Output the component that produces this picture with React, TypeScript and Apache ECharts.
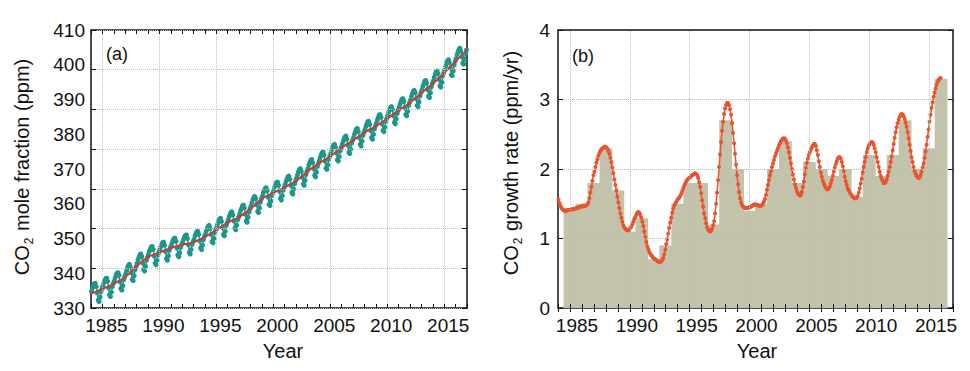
import React, { useEffect, useRef } from 'react';
import * as echarts from 'echarts';

// ---------- Panel (a): globally averaged CO2 mole fraction ----------
const MONTHLY_START_YEAR = 1984;
// monthly means (ppm), one row per year 1984..2016, Jan..Dec
const MONTHLY_CO2: number[][] = [
  [344.2, 345.0, 345.6, 346.1, 346.2, 345.4, 343.8, 342.0, 341.6, 342.7, 344.1, 344.8],
  [345.5, 346.3, 346.9, 347.4, 347.5, 346.7, 345.1, 343.3, 342.9, 344.0, 345.4, 346.2],
  [346.8, 347.6, 348.3, 348.8, 348.9, 348.2, 346.6, 344.9, 344.5, 345.6, 347.1, 347.8],
  [348.5, 349.4, 350.2, 350.8, 351.0, 350.3, 348.9, 347.2, 346.9, 348.1, 349.7, 350.5],
  [351.2, 352.1, 352.8, 353.4, 353.6, 352.9, 351.3, 349.6, 349.3, 350.5, 352.0, 352.8],
  [353.5, 354.3, 354.9, 355.4, 355.5, 354.7, 353.1, 351.3, 350.9, 352.0, 353.4, 354.1],
  [354.6, 355.4, 356.0, 356.5, 356.6, 355.8, 354.2, 352.4, 352.0, 353.1, 354.5, 355.2],
  [355.7, 356.5, 357.1, 357.5, 357.6, 356.8, 355.1, 353.3, 352.9, 353.9, 355.3, 356.0],
  [356.5, 357.3, 357.9, 358.3, 358.4, 357.5, 355.9, 354.0, 353.6, 354.7, 356.0, 356.7],
  [357.3, 358.1, 358.7, 359.2, 359.3, 358.5, 356.9, 355.1, 354.7, 355.8, 357.2, 358.0],
  [358.6, 359.4, 360.1, 360.6, 360.8, 360.0, 358.5, 356.7, 356.4, 357.5, 359.0, 359.7],
  [360.4, 361.2, 361.9, 362.4, 362.6, 361.8, 360.3, 358.5, 358.2, 359.3, 360.8, 361.5],
  [362.2, 363.0, 363.6, 364.1, 364.2, 363.4, 361.9, 360.1, 359.7, 360.8, 362.2, 362.9],
  [363.6, 364.5, 365.1, 365.7, 365.9, 365.2, 363.6, 361.9, 361.6, 362.8, 364.2, 365.0],
  [365.7, 366.6, 367.3, 367.9, 368.1, 367.5, 366.0, 364.3, 364.0, 365.2, 366.7, 367.5],
  [368.2, 369.0, 369.6, 370.1, 370.3, 369.5, 367.9, 366.1, 365.8, 366.9, 368.3, 369.0],
  [369.7, 370.5, 371.1, 371.6, 371.7, 370.9, 369.4, 367.6, 367.2, 368.3, 369.7, 370.4],
  [371.1, 371.9, 372.5, 373.1, 373.2, 372.4, 370.9, 369.1, 368.7, 369.9, 371.3, 372.0],
  [372.7, 373.6, 374.3, 374.9, 375.1, 374.4, 372.9, 371.2, 370.9, 372.1, 373.6, 374.4],
  [375.1, 376.0, 376.6, 377.2, 377.4, 376.6, 375.1, 373.4, 373.0, 374.2, 375.7, 376.4],
  [377.1, 377.9, 378.6, 379.1, 379.3, 378.5, 377.0, 375.2, 374.9, 376.0, 377.5, 378.2],
  [378.9, 379.8, 380.5, 381.0, 381.2, 380.5, 379.0, 377.3, 377.0, 378.1, 379.6, 380.4],
  [381.1, 381.9, 382.6, 383.1, 383.3, 382.5, 381.0, 379.2, 378.9, 380.0, 381.5, 382.2],
  [382.9, 383.8, 384.4, 385.0, 385.2, 384.4, 382.9, 381.2, 380.8, 382.0, 383.5, 384.2],
  [384.9, 385.7, 386.3, 386.9, 387.0, 386.2, 384.7, 382.9, 382.5, 383.7, 385.1, 385.8],
  [386.5, 387.3, 388.0, 388.6, 388.7, 388.0, 386.4, 384.7, 384.4, 385.5, 387.0, 387.7],
  [388.4, 389.3, 389.9, 390.5, 390.7, 390.0, 388.4, 386.7, 386.4, 387.6, 389.0, 389.8],
  [390.5, 391.3, 392.0, 392.6, 392.7, 392.0, 390.4, 388.7, 388.4, 389.5, 391.0, 391.7],
  [392.4, 393.3, 394.0, 394.6, 394.8, 394.2, 392.7, 391.0, 390.7, 391.9, 393.4, 394.2],
  [394.9, 395.8, 396.5, 397.1, 397.3, 396.6, 395.0, 393.3, 393.0, 394.2, 395.7, 396.5],
  [397.2, 398.1, 398.9, 399.5, 399.7, 399.0, 397.6, 395.9, 395.6, 396.8, 398.4, 399.2],
  [399.9, 400.9, 401.6, 402.2, 402.5, 401.8, 400.4, 398.7, 398.5, 399.7, 401.2, 402.1],
  [402.8, 403.8, 404.5, 405.1, 405.4, 404.7, 403.3, 401.6, 401.4, 402.6, 404.1, 405.0],
];
// deseasonalised trend (ppm) at the start of each year
const TREND_YEARS = [1984, 1985, 1986, 1987, 1988, 1989, 1990, 1991, 1992, 1993, 1994, 1995, 1996, 1997, 1998, 1999, 2000, 2001, 2002, 2003, 2004, 2005, 2006, 2007, 2008, 2009, 2010, 2011, 2012, 2013, 2014, 2015, 2016, 2017];
const TREND_CO2 = [343.6, 344.8, 346.1, 347.8, 350.5, 352.8, 354.0, 355.1, 355.9, 356.6, 357.9, 359.7, 361.5, 362.9, 365.0, 367.5, 369.0, 370.4, 372.0, 374.4, 376.4, 378.2, 380.4, 382.2, 384.2, 385.8, 387.7, 389.8, 391.7, 394.2, 396.5, 399.2, 402.1, 405.0];

// ---------- Panel (b): growth rate ----------
const GROWTH_START_YEAR = 1984;
// smoothed monthly growth rate (ppm/yr), one row per year 1984..2015
const GROWTH_MONTHLY: number[][] = [
  [1.56, 1.51, 1.47, 1.44, 1.42, 1.41, 1.40, 1.40, 1.40, 1.41, 1.41, 1.41],
  [1.41, 1.42, 1.42, 1.42, 1.43, 1.43, 1.44, 1.44, 1.45, 1.45, 1.46, 1.46],
  [1.46, 1.47, 1.47, 1.47, 1.48, 1.49, 1.52, 1.58, 1.66, 1.74, 1.83, 1.91],
  [1.96, 2.03, 2.09, 2.14, 2.19, 2.23, 2.26, 2.28, 2.30, 2.31, 2.32, 2.32],
  [2.31, 2.29, 2.26, 2.22, 2.16, 2.10, 2.02, 1.94, 1.85, 1.77, 1.69, 1.60],
  [1.52, 1.44, 1.36, 1.30, 1.24, 1.19, 1.16, 1.14, 1.12, 1.12, 1.12, 1.13],
  [1.15, 1.17, 1.20, 1.24, 1.28, 1.31, 1.34, 1.37, 1.38, 1.37, 1.34, 1.30],
  [1.24, 1.18, 1.10, 1.02, 0.95, 0.89, 0.85, 0.81, 0.78, 0.76, 0.74, 0.72],
  [0.71, 0.70, 0.69, 0.68, 0.67, 0.66, 0.66, 0.67, 0.69, 0.72, 0.77, 0.84],
  [0.92, 0.99, 1.07, 1.15, 1.23, 1.30, 1.37, 1.43, 1.47, 1.50, 1.53, 1.55],
  [1.57, 1.59, 1.61, 1.64, 1.68, 1.72, 1.76, 1.79, 1.82, 1.84, 1.86, 1.87],
  [1.88, 1.90, 1.91, 1.92, 1.93, 1.94, 1.93, 1.91, 1.87, 1.81, 1.74, 1.65],
  [1.55, 1.46, 1.36, 1.29, 1.22, 1.16, 1.13, 1.11, 1.10, 1.11, 1.14, 1.19],
  [1.25, 1.36, 1.50, 1.66, 1.84, 2.03, 2.21, 2.39, 2.55, 2.68, 2.79, 2.87],
  [2.92, 2.95, 2.95, 2.92, 2.86, 2.78, 2.66, 2.52, 2.37, 2.22, 2.06, 1.91],
  [1.78, 1.67, 1.58, 1.52, 1.48, 1.46, 1.45, 1.44, 1.44, 1.44, 1.44, 1.45],
  [1.45, 1.46, 1.47, 1.48, 1.49, 1.49, 1.49, 1.48, 1.48, 1.47, 1.47, 1.47],
  [1.48, 1.50, 1.53, 1.57, 1.63, 1.70, 1.77, 1.84, 1.91, 1.97, 2.03, 2.08],
  [2.13, 2.18, 2.22, 2.26, 2.30, 2.34, 2.37, 2.40, 2.42, 2.44, 2.44, 2.44],
  [2.41, 2.37, 2.31, 2.24, 2.16, 2.08, 2.00, 1.92, 1.85, 1.78, 1.73, 1.68],
  [1.65, 1.63, 1.62, 1.63, 1.67, 1.74, 1.82, 1.92, 2.01, 2.09, 2.15, 2.20],
  [2.24, 2.28, 2.31, 2.34, 2.36, 2.36, 2.33, 2.27, 2.20, 2.11, 2.03, 1.95],
  [1.89, 1.83, 1.79, 1.76, 1.73, 1.71, 1.71, 1.72, 1.75, 1.79, 1.84, 1.90],
  [1.96, 2.02, 2.07, 2.11, 2.15, 2.17, 2.17, 2.15, 2.10, 2.04, 1.97, 1.89],
  [1.82, 1.77, 1.72, 1.69, 1.66, 1.64, 1.62, 1.60, 1.59, 1.58, 1.58, 1.59],
  [1.61, 1.66, 1.72, 1.79, 1.86, 1.95, 2.03, 2.10, 2.17, 2.24, 2.29, 2.33],
  [2.36, 2.38, 2.39, 2.38, 2.35, 2.30, 2.24, 2.17, 2.10, 2.03, 1.96, 1.90],
  [1.86, 1.83, 1.80, 1.80, 1.81, 1.85, 1.90, 1.96, 2.03, 2.10, 2.18, 2.27],
  [2.36, 2.45, 2.53, 2.60, 2.66, 2.71, 2.75, 2.78, 2.79, 2.78, 2.76, 2.72],
  [2.67, 2.61, 2.53, 2.44, 2.35, 2.26, 2.17, 2.10, 2.03, 1.97, 1.93, 1.90],
  [1.88, 1.87, 1.88, 1.91, 1.96, 2.02, 2.08, 2.16, 2.25, 2.35, 2.46, 2.57],
  [2.68, 2.78, 2.88, 2.96, 3.04, 3.10, 3.16, 3.21, 3.25, 3.28, 3.30, 3.31],
];
// increase in successive annual means (ppm/yr)
const BAR_YEARS = [1985, 1986, 1987, 1988, 1989, 1990, 1991, 1992, 1993, 1994, 1995, 1996, 1997, 1998, 1999, 2000, 2001, 2002, 2003, 2004, 2005, 2006, 2007, 2008, 2009, 2010, 2011, 2012, 2013, 2014, 2015, 2016];
const BAR_VALUES = [1.43, 1.50, 1.80, 2.30, 1.69, 1.10, 1.29, 0.70, 0.90, 1.50, 1.80, 1.80, 1.20, 2.70, 2.00, 1.40, 1.50, 2.00, 2.40, 1.80, 2.10, 2.00, 1.90, 2.00, 1.60, 2.20, 1.90, 2.20, 2.70, 2.00, 2.30, 3.30];

// ---------- axes ----------
const X_MIN = 1984;
const X_MAX = 2017;
const X_GRID_YEARS = [1985, 1990, 1995, 2000, 2005, 2010, 2015];
const A_GRID_MIN = 340; // gridlines of panel (a)
const A_LABEL_MIN = 330; // printed tick labels of panel (a)
const A_MAX = 410;
const B_MIN = 0;
const B_MAX = 4;
const B_GRID_VALUES = [1, 2, 3];

const FONT = "'Liberation Sans', Arial, sans-serif";
const INK = '#111111';
const GRID_LINE = { color: '#bdbdbd', type: 'dotted' as const, width: 1 };

function xAxes(gridIndex: number, labelShift: number) {
  return [
    {
      type: 'value', gridIndex, position: 'bottom', min: X_MIN, max: X_MAX, interval: 1, z: 10,
      axisLine: { show: false },
      axisTick: { show: true, inside: true, length: 4, lineStyle: { color: INK, width: 1 } },
      axisLabel: {
        show: true, margin: 8, fontSize: 19, fontFamily: FONT, color: INK,
        padding: [0, 0, 0, labelShift * 2],
        formatter: (v: number) => (X_GRID_YEARS.indexOf(v) >= 0 ? String(v) : ''),
      },
      splitLine: { show: false },
    },
    {
      type: 'value', gridIndex, position: 'top', min: X_MIN, max: X_MAX, interval: 1, z: 10,
      axisLine: { show: false },
      axisTick: { show: true, inside: true, length: 4, lineStyle: { color: INK, width: 1 } },
      axisLabel: { show: false },
      splitLine: { show: false },
    },
  ];
}

export default function App() {
  const ref = useRef<HTMLDivElement>(null);

  useEffect(() => {
    document.body.style.margin = '0';
    if (!ref.current) return;
    const chart = echarts.init(ref.current, null, { renderer: 'svg' });

    const tealData: number[][] = [];
    MONTHLY_CO2.forEach((row, yi) => {
      row.forEach((v, m) => tealData.push([MONTHLY_START_YEAR + yi + (m + 0.5) / 12, v]));
    });
    const trendData = TREND_YEARS.map((y, i) => [y, TREND_CO2[i]]);
    const growthData: number[][] = [];
    GROWTH_MONTHLY.forEach((row, yi) => {
      row.forEach((v, m) => growthData.push([GROWTH_START_YEAR + yi + (m + 0.5) / 12, v]));
    });
    const barData = BAR_YEARS.map((y, i) => [y, BAR_VALUES[i]]);

    const gridBox = { show: true, borderColor: INK, borderWidth: 1.5, backgroundColor: 'transparent' };

    const option: any = {
      animation: false,
      grid: [
        { left: 91, top: 30, width: 376, height: 278, ...gridBox },
        { left: 558, top: 30, width: 395, height: 278, ...gridBox },
      ],
      xAxis: [...xAxes(0, 4), ...xAxes(1, 7)],
      yAxis: [
        {
          type: 'value', gridIndex: 0, position: 'left', min: A_GRID_MIN, max: A_MAX, interval: 10, z: 10,
          axisLine: { show: false },
          axisTick: { show: true, inside: true, length: 5, lineStyle: { color: INK } },
          axisLabel: { show: false },
          splitLine: { show: true, lineStyle: GRID_LINE },
        },
        {
          type: 'value', gridIndex: 0, position: 'left', min: A_LABEL_MIN, max: A_MAX, interval: 10,
          axisLine: { show: false }, axisTick: { show: false }, splitLine: { show: false },
          axisLabel: { show: true, margin: 6, fontSize: 19, fontFamily: FONT, color: INK },
        },
        {
          type: 'value', gridIndex: 0, position: 'right', min: A_GRID_MIN, max: A_MAX, interval: 10, z: 10,
          axisLine: { show: false },
          axisTick: { show: true, inside: true, length: 5, lineStyle: { color: INK } },
          axisLabel: { show: false }, splitLine: { show: false },
        },
        {
          type: 'value', gridIndex: 1, position: 'left', min: B_MIN, max: B_MAX, interval: 1, z: 10,
          axisLine: { show: false },
          axisTick: { show: true, inside: true, length: 5, lineStyle: { color: INK } },
          axisLabel: { show: true, margin: 8, fontSize: 19, fontFamily: FONT, color: INK },
          splitLine: { show: false },
        },
        {
          type: 'value', gridIndex: 1, position: 'right', min: B_MIN, max: B_MAX, interval: 1, z: 10,
          axisLine: { show: false },
          axisTick: { show: true, inside: true, length: 5, lineStyle: { color: INK } },
          axisLabel: { show: false }, splitLine: { show: false },
        },
      ],
      series: [
        {
          type: 'line', xAxisIndex: 0, yAxisIndex: 0, data: [], z: 1, silent: true,
          markLine: {
            silent: true, symbol: ['none', 'none'], label: { show: false },
            lineStyle: GRID_LINE,
            data: X_GRID_YEARS.map((x) => ({ xAxis: x })),
          },
        },
        {
          name: 'monthly', type: 'line', xAxisIndex: 0, yAxisIndex: 0, data: tealData, z: 3,
          symbol: 'circle', symbolSize: 5, showSymbol: true,
          itemStyle: { color: '#1d968c' },
          lineStyle: { color: '#1d968c', width: 1.4 },
        },
        {
          name: 'trend', type: 'line', xAxisIndex: 0, yAxisIndex: 0, data: trendData, z: 4,
          smooth: 0.4, symbol: 'none',
          lineStyle: { color: '#d6362c', width: 2 },
        },
        {
          name: 'annual increase', type: 'bar', xAxisIndex: 2, yAxisIndex: 3, data: barData, z: 2,
          barWidth: 12.8, itemStyle: { color: '#c3c3ab' },
        },
        {
          type: 'line', xAxisIndex: 2, yAxisIndex: 3, data: [], z: 3, silent: true,
          markLine: {
            silent: true, symbol: ['none', 'none'], label: { show: false },
            lineStyle: GRID_LINE,
            data: [
              ...X_GRID_YEARS.map((x) => ({ xAxis: x })),
              ...B_GRID_VALUES.map((y) => ({ yAxis: y })),
            ],
          },
        },
        {
          name: 'growth rate', type: 'line', xAxisIndex: 2, yAxisIndex: 3, data: growthData, z: 4,
          symbol: 'circle', symbolSize: 4, showSymbol: true,
          itemStyle: { color: '#e9532e' },
          lineStyle: { color: '#e9532e', width: 1.5 },
        },
      ],
      graphic: [
        {
          type: 'text', x: 23, y: 167, rotation: Math.PI / 2,
          style: {
            text: '{a|CO}{s|2}{a| mole fraction (ppm)}',
            align: 'center', verticalAlign: 'middle', fill: INK,
            rich: {
              a: { fontSize: 20, fontFamily: FONT, fill: INK, lineHeight: 22, verticalAlign: 'top' },
              s: { fontSize: 12, fontFamily: FONT, fill: INK, lineHeight: 12, verticalAlign: 'top', padding: [11, 1, 0, 1] },
            },
          },
        },
        {
          type: 'text', x: 512, y: 163, rotation: Math.PI / 2,
          style: {
            text: '{a|CO}{s|2}{a| growth rate (ppm/yr)}',
            align: 'center', verticalAlign: 'middle', fill: INK,
            rich: {
              a: { fontSize: 20, fontFamily: FONT, fill: INK, lineHeight: 22, verticalAlign: 'top' },
              s: { fontSize: 12, fontFamily: FONT, fill: INK, lineHeight: 12, verticalAlign: 'top', padding: [11, 1, 0, 1] },
            },
          },
        },
        {
          type: 'text', x: 283, y: 351,
          style: { text: 'Year', fontSize: 20, fontFamily: FONT, fill: INK, align: 'center', verticalAlign: 'middle' },
        },
        {
          type: 'text', x: 757, y: 351,
          style: { text: 'Year', fontSize: 20, fontFamily: FONT, fill: INK, align: 'center', verticalAlign: 'middle' },
        },
        {
          type: 'text', x: 117, y: 54,
          style: { text: '(a)', fontSize: 18, fontFamily: FONT, fill: INK, align: 'center', verticalAlign: 'middle' },
        },
        {
          type: 'text', x: 583, y: 56,
          style: { text: '(b)', fontSize: 18, fontFamily: FONT, fill: INK, align: 'center', verticalAlign: 'middle' },
        },
      ],
    };

    chart.setOption(option);
    return () => chart.dispose();
  }, []);

  return <div ref={ref} style={{ width: 970, height: 371 }} />;
}
